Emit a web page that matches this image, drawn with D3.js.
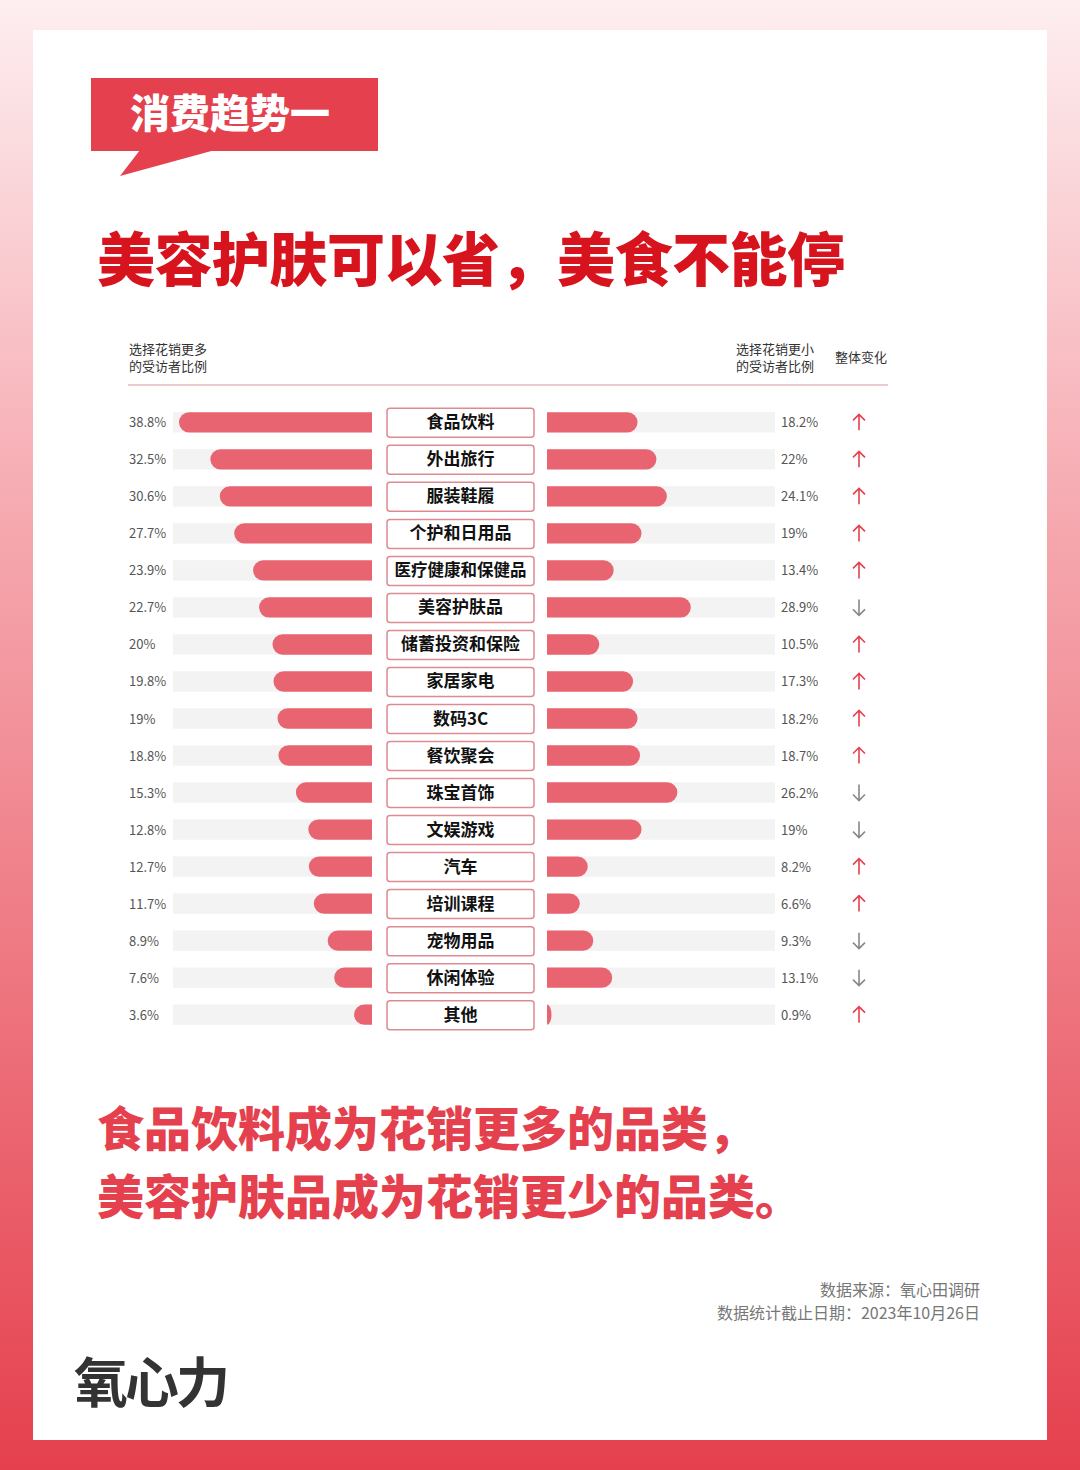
<!DOCTYPE html>
<html><head><meta charset="utf-8">
<script src="https://cdn.jsdelivr.net/npm/d3@7"></script>
<style>body{margin:0}svg{display:block;font-family:"Noto Sans CJK SC",sans-serif}</style>
</head><body><svg id="c" width="1080" height="1470"></svg>
<script>
const categories=["食品饮料","外出旅行","服装鞋履","个护和日用品","医疗健康和保健品","美容护肤品","储蓄投资和保险","家居家电","数码3C","餐饮聚会","珠宝首饰","文娱游戏","汽车","培训课程","宠物用品","休闲体验","其他"];
const moreValues=[38.8,32.5,30.6,27.7,23.9,22.7,20,19.8,19,18.8,15.3,12.8,12.7,11.7,8.9,7.6,3.6];
const lessValues=[18.2,22,24.1,19,13.4,28.9,10.5,17.3,18.2,18.7,26.2,19,8.2,6.6,9.3,13.1,0.9];
const changeDirs=["up","up","up","up","up","down","up","up","up","up","down","down","up","up","down","down","up"];
const fmt=v=>v+"%";
const svg=d3.select("#c");
const defs=svg.append("defs");
const g=defs.append("linearGradient").attr("id","bg").attr("x1",0).attr("y1",0).attr("x2",0).attr("y2",1);
g.append("stop").attr("offset",0).attr("stop-color","#fdeef0");
g.append("stop").attr("offset",0.35).attr("stop-color","#f6a9b0");
g.append("stop").attr("offset",1).attr("stop-color","#e5404d");
svg.append("rect").attr("width",1080).attr("height",1470).attr("fill","url(#bg)");
svg.append("rect").attr("x",33).attr("y",30).attr("width",1014).attr("height",1410).attr("fill","#fff");
svg.append("rect").attr("x",91).attr("y",78).attr("width",287).attr("height",73).attr("fill","#e5404d");
svg.append("path").attr("d","M140,150 L120,176 L215,150 Z").attr("fill","#e5404d");
svg.append("text").attr("x",130).attr("y",128).attr("font-size",40).attr("font-weight",900).attr("fill","#fff").text("消费趋势一");
svg.append("text").attr("x",97).attr("y",281).attr("font-size",58).attr("font-weight",900).attr("fill","#d7141e").attr("letter-spacing",-0.5).text("美容护肤可以省，美食不能停");
const hdr=(x,y,lines,anchor)=>lines.forEach((l,i)=>svg.append("text").attr("x",x).attr("y",y+i*17).attr("font-size",13).attr("fill","#333").attr("text-anchor",anchor||"start").text(l));
hdr(129,354,["选择花销更多","的受访者比例"]);
hdr(736,354,["选择花销更小","的受访者比例"]);
hdr(835,362,["整体变化"]);
svg.append("line").attr("x1",128).attr("x2",888).attr("y1",385).attr("y2",385).attr("stroke","#e9b9be").attr("stroke-width",1.5);
const y=d3.scaleBand().domain(categories).range([404,1033]).paddingInner(0.45).paddingOuter(0.22);
const xl=d3.scaleLinear().domain([0,40]).range([372,173]);
const xr=d3.scaleLinear().domain([0,40]).range([547,746]);
const bh=y.bandwidth();
const red="#e96471";
categories.forEach((c,i)=>{
  const yy=y(c), cy=yy+bh/2;
  svg.append("rect").attr("x",173).attr("y",yy).attr("width",199).attr("height",bh).attr("fill","#f3f3f3");
  svg.append("rect").attr("x",547).attr("y",yy).attr("width",228).attr("height",bh).attr("fill","#f3f3f3");
  const l0=xl(moreValues[i]);
  svg.append("path").attr("fill",red).attr("d",`M372,${yy} H${l0+bh/2} A${bh/2},${bh/2} 0 0 0 ${l0+bh/2},${yy+bh} H372 Z`);
  const r1=xr(lessValues[i]);
  const r=Math.min(bh/2,r1-547);
  svg.append("path").attr("fill",red).attr("d",`M547,${yy} H${r1-r} A${r},${bh/2} 0 0 1 ${r1-r},${yy+bh} H547 Z`);
  svg.append("text").attr("x",129).attr("y",cy+5).attr("font-size",13).attr("fill","#555").text(fmt(moreValues[i]));
  svg.append("text").attr("x",781).attr("y",cy+5).attr("font-size",13).attr("fill","#555").text(fmt(lessValues[i]));
  svg.append("rect").attr("x",387).attr("y",cy-14).attr("width",147).attr("height",29).attr("rx",3).attr("fill","#fff").attr("stroke","#dd8a92").attr("stroke-width",1.5);
  svg.append("text").attr("x",460.5).attr("y",cy+6).attr("text-anchor","middle").attr("font-size",c.length>7?16.5:17).attr("font-weight",700).attr("fill","#111").text(c);
  const up=changeDirs[i]==="up", col=up?"#e5404d":"#888";
  const ax=859;
  const p=up?`M${ax},${cy+8} V${cy-8} M${ax-6},${cy-2} L${ax},${cy-8} L${ax+6},${cy-2}`:`M${ax},${cy-8} V${cy+8} M${ax-6},${cy+2} L${ax},${cy+8} L${ax+6},${cy+2}`;
  svg.append("path").attr("d",p).attr("stroke",col).attr("stroke-width",1.6).attr("fill","none");
});
svg.append("text").attr("x",97).attr("y",1146).attr("font-size",47).attr("font-weight",900).attr("fill","#e5404d").text("食品饮料成为花销更多的品类，");
svg.append("text").attr("x",97).attr("y",1214).attr("font-size",47).attr("font-weight",900).attr("fill","#e5404d").text("美容护肤品成为花销更少的品类。");
svg.append("text").attr("x",980).attr("y",1296).attr("text-anchor","end").attr("font-size",16).attr("fill","#777").text("数据来源：氧心田调研");
svg.append("text").attr("x",980).attr("y",1319).attr("text-anchor","end").attr("font-size",16).attr("fill","#777").text("数据统计截止日期：2023年10月26日");
svg.append("text").attr("x",74).attr("y",1403).attr("font-size",54).attr("font-weight",700).attr("fill","#333").attr("letter-spacing",-3).text("氧心力");
</script></body></html>
